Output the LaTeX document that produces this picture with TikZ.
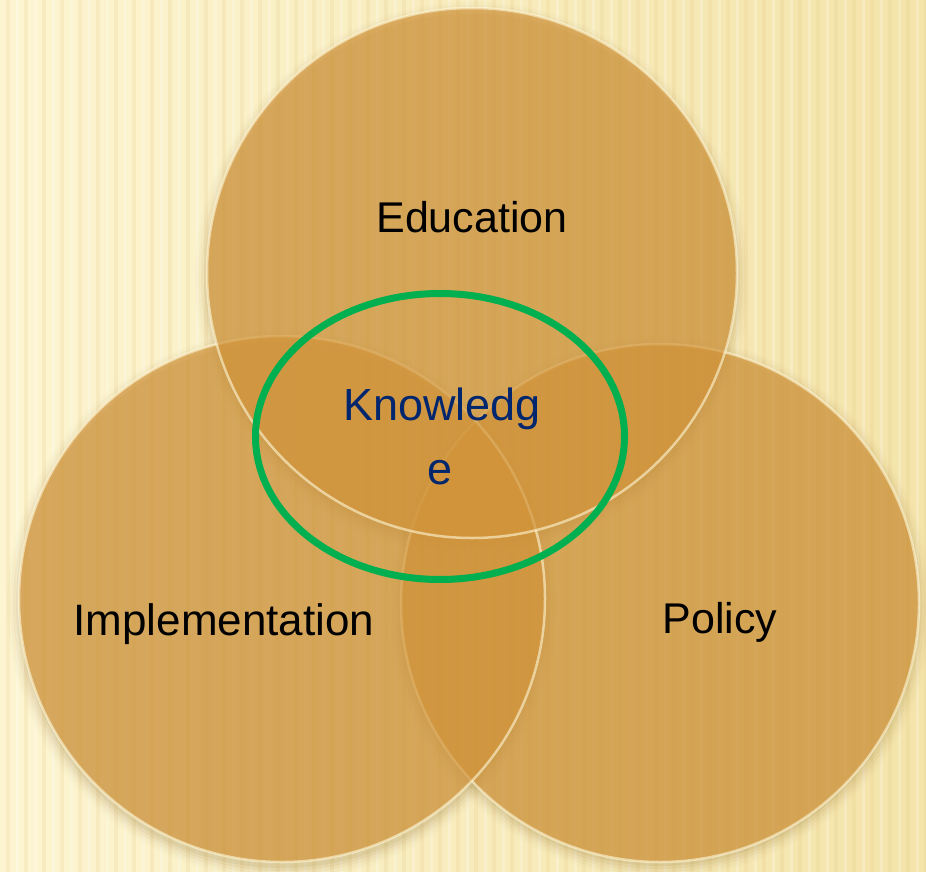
\documentclass[tikz,border=0pt]{standalone}
\usepackage{fontspec}
\usetikzlibrary{shapes.geometric}
\setmainfont{Liberation Sans}
\definecolor{bgL}{RGB}{253,245,210}
\definecolor{bgR}{RGB}{244,228,170}
\definecolor{discc}{RGB}{210,148,58}
\definecolor{kgreen}{RGB}{0,176,80}
\definecolor{navyk}{RGB}{0,38,110}
\definecolor{shadowc}{RGB}{140,105,40}
\definecolor{stripec}{RGB}{228,200,130}
\definecolor{rimc}{RGB}{255,248,215}
\begin{document}
\begin{tikzpicture}[x=1pt,y=-1pt,
  disc/.style={circle, inner sep=0pt, fill=discc, fill opacity=0.68, draw=rimc, draw opacity=0.6, line width=2.5pt},
  lbl/.style={anchor=base, inner sep=0pt, font=\fontsize{43}{50}\selectfont, text=black},
  klbl/.style={anchor=base, inner sep=0pt, font=\fontsize{45}{52}\selectfont, text=navyk},
  kring/.style={draw=kgreen, line width=7pt}]
% background
\fill[left color=bgL, right color=bgR] (0,0) rectangle (926,872);
\useasboundingbox (0,0) rectangle (926,872);
\foreach \x in {8,26,...,926} {
  \draw[stripec, opacity=0.2, line width=4pt] (\x,0) -- (\x,872);
}
\foreach \x in {17,35,...,926} {
  \draw[white, opacity=0.22, line width=3pt] (\x,0) -- (\x,872);
}
% soft shadows
\foreach \r/\o in {0/0.09,3/0.07,6/0.05,9/0.035,12/0.02} {
  \fill[shadowc, opacity=\o] (472,279) circle[radius=265+\r];
  \fill[shadowc, opacity=\o] (282,605) circle[radius=263+\r];
  \fill[shadowc, opacity=\o] (660,607) circle[radius=259+\r];
}
% discs
\node[disc, minimum size=518pt] (pol) at (660,603) {};
\node[disc, minimum size=526pt] (imp) at (282,599) {};
\node[disc, minimum size=530pt] (edu) at (472,273) {};
% green ring
\node[kring, ellipse, minimum width=369pt, minimum height=286pt, inner sep=0pt] (ring) at (440,436.5) {};
% labels
\node[lbl] (eduT) at (472,232) {Education};
\node[lbl, font=\fontsize{44}{50}\selectfont] (impT) at (224,635) {Implementation};
\node[lbl] (polT) at (720,633) {Policy};
\node[klbl] (k1) at (442,420) {Knowledg};
\node[klbl] (k2) at (440,484) {e};
\end{tikzpicture}
\end{document}
